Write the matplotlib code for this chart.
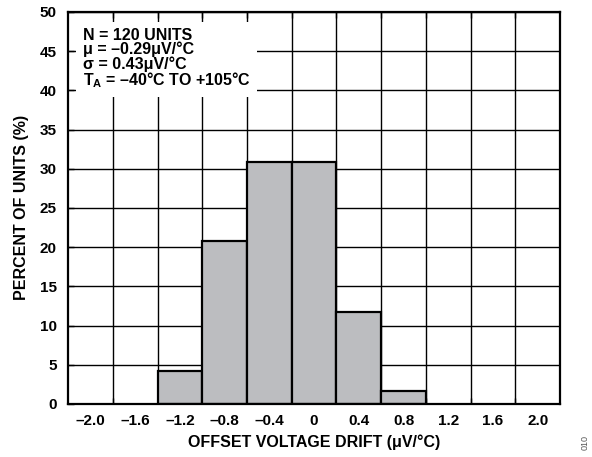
import matplotlib
matplotlib.use('Agg')
import matplotlib.pyplot as plt
import numpy as np

# --- Data ---
bin_centers = [-1.2, -0.8, -0.4, 0.0, 0.4, 0.8]
percent_units = [4.2, 20.8, 30.8, 30.8, 11.7, 1.7]
bin_width = 0.4
x_ticks = [-2.0, -1.6, -1.2, -0.8, -0.4, 0.0, 0.4, 0.8, 1.2, 1.6, 2.0]
x_tick_labels = ['–2.0', '–1.6', '–1.2', '–0.8', '–0.4', '0', '0.4', '0.8', '1.2', '1.6', '2.0']
x_grid = [-1.8, -1.4, -1.0, -0.6, -0.2, 0.2, 0.6, 1.0, 1.4, 1.8]
y_ticks = [0, 5, 10, 15, 20, 25, 30, 35, 40, 45, 50]

plt.rcParams['font.family'] = ['Liberation Sans', 'DejaVu Sans']
plt.rcParams['font.weight'] = 'bold'
plt.rcParams['mathtext.fontset'] = 'custom'
plt.rcParams['mathtext.rm'] = 'Liberation Sans:bold'
plt.rcParams['mathtext.bf'] = 'Liberation Sans:bold'
plt.rcParams['mathtext.it'] = 'Liberation Sans:bold'

fig = plt.figure(figsize=(5.92, 4.57), dpi=100)
ax = fig.add_axes([0.115, 0.116, 0.831, 0.858])

ax.bar(bin_centers, percent_units, width=bin_width, color='#bcbdc0',
       edgecolor='black', linewidth=1.6, zorder=3)

ax.set_xlim(-2.2, 2.2)
ax.set_ylim(0, 50)

ax.set_xticks(x_ticks)
ax.set_xticklabels(x_tick_labels)
ax.set_xticks(x_grid, minor=True)
ax.set_yticks(y_ticks)

ax.tick_params(axis='x', which='major', length=0, pad=7, labelsize=11)
ax.tick_params(axis='x', which='minor', direction='in', length=4, width=1,
               top=True, bottom=True)
ax.tick_params(axis='y', which='major', direction='in', length=4, width=1,
               labelsize=11, pad=8)
for lbl in ax.get_xticklabels() + ax.get_yticklabels():
    lbl.set_fontweight('bold')

ax.grid(True, axis='x', which='minor', color='black', linewidth=1.0, zorder=1)
ax.grid(True, axis='y', which='major', color='black', linewidth=1.0, zorder=1)
ax.set_axisbelow(True)

for sp in ax.spines.values():
    sp.set_linewidth(1.6)
    sp.set_zorder(4)

ax.set_xlabel('OFFSET VOLTAGE DRIFT (μV/°C)', fontsize=11.5, fontweight='bold', labelpad=5)
ax.set_ylabel('PERCENT OF UNITS (%)', fontsize=11.5, fontweight='bold', labelpad=8)

ax.text(-2.07, 48.0,
        'N = 120 UNITS\nμ = –0.29μV/°C\nσ = 0.43μV/°C\n$\\mathbf{T_A}$ = –40°C TO +105°C',
        fontsize=11.5, fontweight='bold', va='top', ha='left', linespacing=0.92,
        zorder=5,
        bbox=dict(facecolor='white', edgecolor='none', pad=5))

fig.text(0.988, 0.015, '010', rotation=90, fontsize=6.5, color='#555555',
         fontweight='normal', ha='center', va='bottom')

fig.savefig('out.png', dpi=100)
